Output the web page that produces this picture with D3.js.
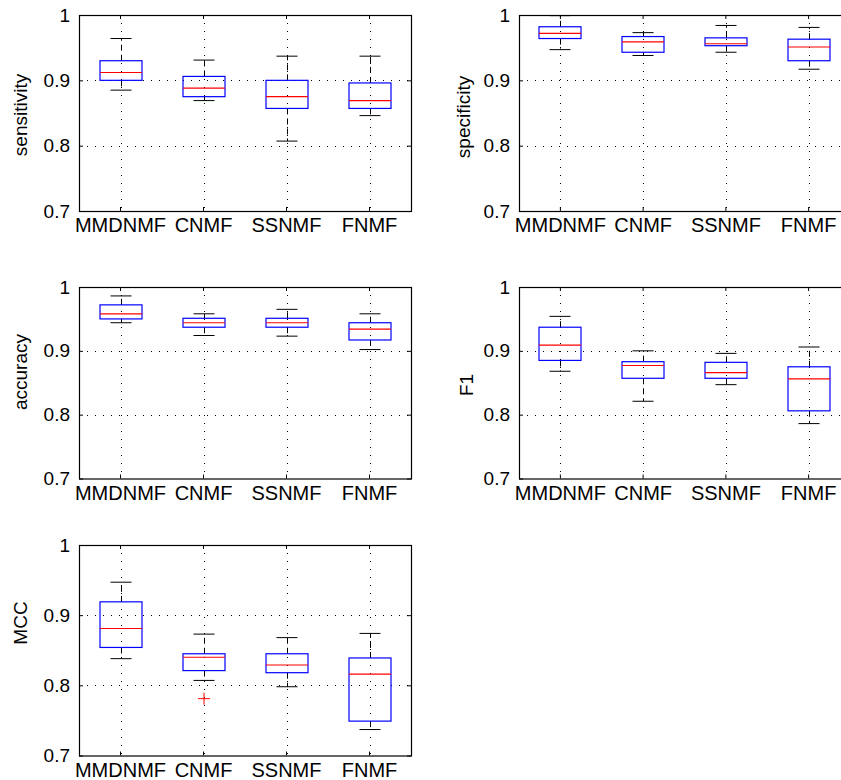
<!DOCTYPE html>
<html>
<head>
<script src="https://cdnjs.cloudflare.com/ajax/libs/d3/7.8.5/d3.min.js"></script>
<style>
  body { margin: 0; background: #fff; }
  svg { display: block; font-family: "Liberation Sans", Arial, Helvetica, sans-serif; }
</style>
</head>
<body>
<div id="vis"></div>
<script>
const methods = ["MMDNMF", "CNMF", "SSNMF", "FNMF"];

// each row: [lower whisker, Q1, median, Q3, upper whisker]
const sensitivity = [
  [0.885, 0.900, 0.912, 0.930, 0.964],
  [0.869, 0.875, 0.888, 0.906, 0.931],
  [0.807, 0.857, 0.875, 0.900, 0.937],
  [0.846, 0.857, 0.869, 0.896, 0.937]
];
const specificity = [
  [0.947, 0.964, 0.972, 0.982, 0.999],
  [0.938, 0.943, 0.959, 0.967, 0.973],
  [0.943, 0.953, 0.956, 0.965, 0.984],
  [0.917, 0.930, 0.951, 0.963, 0.981]
];
const accuracy = [
  [0.944, 0.950, 0.958, 0.972, 0.986],
  [0.924, 0.937, 0.944, 0.951, 0.958],
  [0.923, 0.937, 0.944, 0.951, 0.965],
  [0.902, 0.917, 0.934, 0.944, 0.958]
];
const f1 = [
  [0.868, 0.885, 0.909, 0.937, 0.954],
  [0.821, 0.857, 0.877, 0.883, 0.900],
  [0.847, 0.857, 0.866, 0.882, 0.896],
  [0.786, 0.806, 0.856, 0.875, 0.906]
];
const mcc = [
  [0.838, 0.854, 0.881, 0.919, 0.947],
  [0.807, 0.821, 0.840, 0.845, 0.873],
  [0.798, 0.818, 0.829, 0.845, 0.868],
  [0.737, 0.749, 0.816, 0.839, 0.874]
];
const mccOutliers = [{method: "CNMF", value: 0.781}];

const yTicks = [0.7, 0.8, 0.9, 1];
const gridTicks = [0.8, 0.9];

const width = 841, height = 780;
const svg = d3.select("#vis").append("svg")
    .attr("width", width)
    .attr("height", height);

const panels = [
  {label: "sensitivity", stats: sensitivity, outliers: [], x: 79, y: 15, w: 332, h: 196, lx: 20, ly: 115},
  {label: "specificity", stats: specificity, outliers: [], x: 519, y: 15, w: 331, h: 196, lx: 463, ly: 117},
  {label: "accuracy", stats: accuracy, outliers: [], x: 79, y: 287, w: 332, h: 191.5, lx: 20, ly: 372},
  {label: "F1", stats: f1, outliers: [], x: 519, y: 287, w: 331, h: 191.5, lx: 466, ly: 385},
  {label: "MCC", stats: mcc, outliers: mccOutliers, x: 79, y: 545, w: 332, h: 210.5, lx: 20, ly: 623}
];

const boxW = 42, capW = 21;

panels.forEach(p => {
  const g = svg.append("g").attr("transform", "translate(" + p.x + "," + p.y + ")");
  const x = d3.scaleBand().domain(methods).range([0, p.w]);
  const y = d3.scaleLinear().domain([0.7, 1]).range([p.h, 0]);
  const cx = d => x(d) + x.bandwidth() / 2;

  // dotted grid
  const grid = g.append("g")
      .attr("stroke", "#000")
      .attr("stroke-width", 1)
      .attr("stroke-dasharray", "1,7");
  grid.selectAll("line.h").data(gridTicks).join("line")
      .attr("class", "h")
      .attr("x1", 0).attr("x2", p.w)
      .attr("y1", d => Math.round(y(d)) + 0.5).attr("y2", d => Math.round(y(d)) + 0.5);
  grid.selectAll("line.v").data(methods).join("line")
      .attr("class", "v")
      .attr("x1", d => Math.round(cx(d)) + 0.5).attr("x2", d => Math.round(cx(d)) + 0.5)
      .attr("y1", 0).attr("y2", p.h);

  // axes with inward ticks
  const yAxis = d3.axisLeft(y).tickValues(yTicks)
      .tickFormat(d => d === 1 ? "1" : d3.format(".1f")(d))
      .tickSizeInner(-4).tickSizeOuter(0).tickPadding(9);
  g.append("g").call(yAxis)
      .call(a => a.select(".domain").remove())
      .call(a => a.selectAll("text").attr("font-size", 19).attr("fill", "#000").attr("font-family", null));

  g.append("g").attr("transform", "translate(" + p.w + ",0)")
      .call(d3.axisRight(y).tickValues(yTicks).tickFormat("").tickSizeInner(-4).tickSizeOuter(0))
      .call(a => a.select(".domain").remove());

  const xAxis = d3.axisBottom(x).tickSizeInner(-4).tickSizeOuter(0).tickPadding(7);
  g.append("g").attr("transform", "translate(0," + p.h + ")").call(xAxis)
      .call(a => a.select(".domain").remove())
      .call(a => a.selectAll("text").attr("font-size", 20).attr("fill", "#000").attr("font-family", null));

  g.append("g")
      .call(d3.axisTop(x).tickFormat("").tickSizeInner(-4).tickSizeOuter(0))
      .call(a => a.select(".domain").remove());

  // boxes
  const box = g.selectAll("g.box").data(p.stats).join("g")
      .attr("class", "box")
      .attr("transform", (d, i) => "translate(" + Math.round(cx(methods[i])) + ",0)");

  box.append("line")
      .attr("x1", 0.5).attr("x2", 0.5)
      .attr("y1", d => y(d[3])).attr("y2", d => y(d[4]))
      .attr("stroke", "#000").attr("stroke-dasharray", "6,4");
  box.append("line")
      .attr("x1", 0.5).attr("x2", 0.5)
      .attr("y1", d => y(d[1])).attr("y2", d => y(d[0]))
      .attr("stroke", "#000").attr("stroke-dasharray", "6,4");
  box.selectAll("line.cap").data(d => [d[0], d[4]]).join("line")
      .attr("class", "cap")
      .attr("x1", -capW / 2).attr("x2", capW / 2)
      .attr("y1", d => y(d)).attr("y2", d => y(d))
      .attr("stroke", "#000");
  box.append("rect")
      .attr("x", -boxW / 2)
      .attr("width", boxW)
      .attr("y", d => y(d[3]))
      .attr("height", d => y(d[1]) - y(d[3]))
      .attr("fill", "none")
      .attr("stroke", "#0000ff")
      .attr("stroke-width", 1.2);
  box.append("line")
      .attr("x1", -boxW / 2).attr("x2", boxW / 2)
      .attr("y1", d => y(d[2])).attr("y2", d => y(d[2]))
      .attr("stroke", "#ff0000")
      .attr("stroke-width", 1.2);

  // outliers
  const plus = g.selectAll("g.out").data(p.outliers).join("g")
      .attr("class", "out")
      .attr("transform", d => "translate(" + Math.round(cx(d.method)) + "," + y(d.value) + ")")
      .attr("stroke", "#ff0000");
  plus.append("line").attr("x1", -6).attr("x2", 6).attr("y1", 0).attr("y2", 0);
  plus.append("line").attr("x1", 0).attr("x2", 0).attr("y1", -6).attr("y2", 6);

  // frame
  g.append("rect")
      .attr("x", 0.5).attr("y", 0.5)
      .attr("width", p.w).attr("height", p.h)
      .attr("fill", "none")
      .attr("stroke", "#000")
      .attr("stroke-width", 1.2);

  svg.append("text")
      .attr("transform", "translate(" + p.lx + "," + p.ly + ") rotate(-90)")
      .attr("text-anchor", "middle")
      .attr("dy", "0.35em")
      .attr("font-size", 19)
      .text(p.label);
});
</script>
</body>
</html>
